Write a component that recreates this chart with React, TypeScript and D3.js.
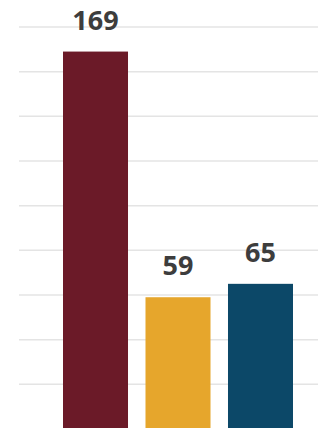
import React from "react";
import * as d3 from "d3";

const categories = ["A", "B", "C"];
const values = [169, 59, 65];
const colors = ["#6b1a28", "#e6a62c", "#0c4868"];
const gridTicks = [0, 20, 40, 60, 80, 100, 120, 140, 160, 180];

const W = 328;
const H = 428;

export default function App() {
  const x = d3
    .scaleBand<string>()
    .domain(categories)
    .range([63, 293])
    .paddingInner(0.212)
    .paddingOuter(0);
  const y = d3.scaleLinear().domain([0, 180]).range([429, 27]);

  return (
    <svg
      width={W}
      height={H}
      style={{ position: "absolute", left: 0, top: 0, background: "#ffffff" }}
    >
      <rect x={0} y={0} width={W} height={H} fill="#ffffff" />
      {gridTicks.map((t) => (
        <line
          key={t}
          x1={19}
          x2={318}
          y1={y(t)}
          y2={y(t)}
          stroke="#e4e4e4"
          strokeWidth={1.5}
        />
      ))}
      {categories.map((c, i) => (
        <rect
          key={c}
          x={x(c)}
          y={y(values[i])}
          width={x.bandwidth()}
          height={y(0) - y(values[i])}
          fill={colors[i]}
        />
      ))}
      {categories.map((c, i) => (
        <text
          key={c + "-label"}
          x={(x(c) as number) + x.bandwidth() / 2}
          y={y(values[i]) - 22}
          textAnchor="middle"
          fontFamily="'Open Sans', sans-serif"
          fontWeight={700}
          fontSize={27}
          fill="#3d3d3d"
        >
          {values[i]}
        </text>
      ))}
    </svg>
  );
}
